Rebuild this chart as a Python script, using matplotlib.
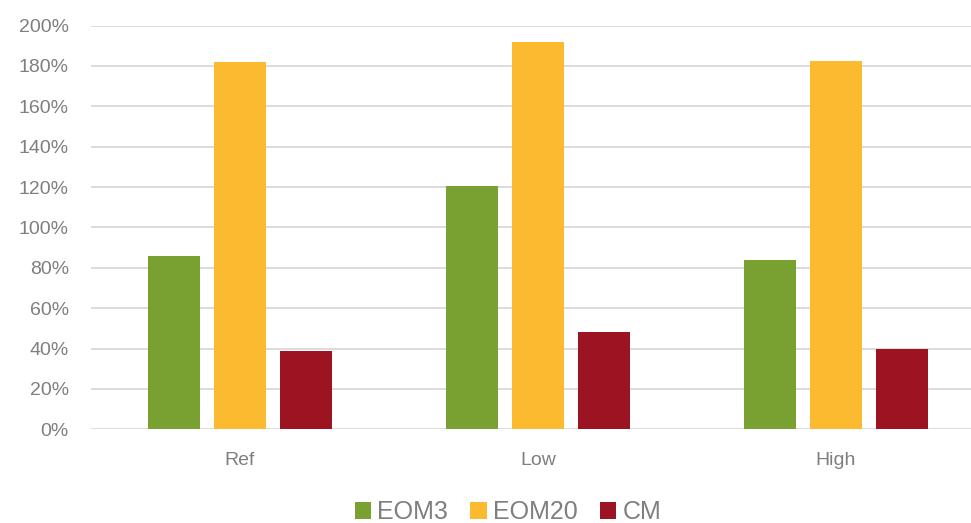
import numpy as np
import matplotlib.pyplot as plt
from matplotlib.ticker import PercentFormatter

# values in percent
categories = ['Ref', 'Low', 'High']
eom3 = [85.8, 120.5, 83.9]
eom20 = [181.9, 192.0, 182.4]
cm = [38.9, 48.0, 39.9]

series = [('EOM3', eom3, '#78A132'), ('EOM20', eom20, '#FBBA2F'), ('CM', cm, '#9C1322')]
text_col = '#7F7F7F'
grid_col = '#D9D9D9'

plt.rcParams['font.family'] = ['Liberation Sans', 'DejaVu Sans']

fig = plt.figure(figsize=(9.71, 5.23), dpi=100)
W, H = 971, 523
# axes run past the right edge of the figure, like the clipped original
ax = fig.add_axes([91 / W, 93.7 / H, 893.7 / W, 403.8 / H])

x = np.arange(len(categories))
bar_w = 52 / 297.9
step = 66 / 297.9
for i, (name, vals, col) in enumerate(series):
    ax.bar(x + (i - 1) * step, vals, width=bar_w, color=col, label=name, zorder=3)

ax.set_xlim(-0.5, 2.5)
ax.set_ylim(0, 200)
ax.set_yticks(np.arange(0, 201, 20))
ax.yaxis.set_major_formatter(PercentFormatter(decimals=0))
ax.set_xticks(x)
ax.set_xticklabels(categories)
ax.grid(axis='y', color=grid_col, linewidth=1.3, zorder=0)
for s in ax.spines.values():
    s.set_visible(False)
ax.tick_params(axis='both', length=0, colors=text_col, labelsize=14)
ax.tick_params(axis='y', pad=16)
ax.tick_params(axis='x', pad=16)

leg = fig.legend(loc='center', bbox_to_anchor=(508 / W, 1 - 512 / H), ncol=3,
                 frameon=False, fontsize=18, handlelength=0.65, handleheight=0.65,
                 handletextpad=0.25, columnspacing=0.9)
for t in leg.get_texts():
    t.set_color(text_col)

fig.savefig('out.png', dpi=100)
